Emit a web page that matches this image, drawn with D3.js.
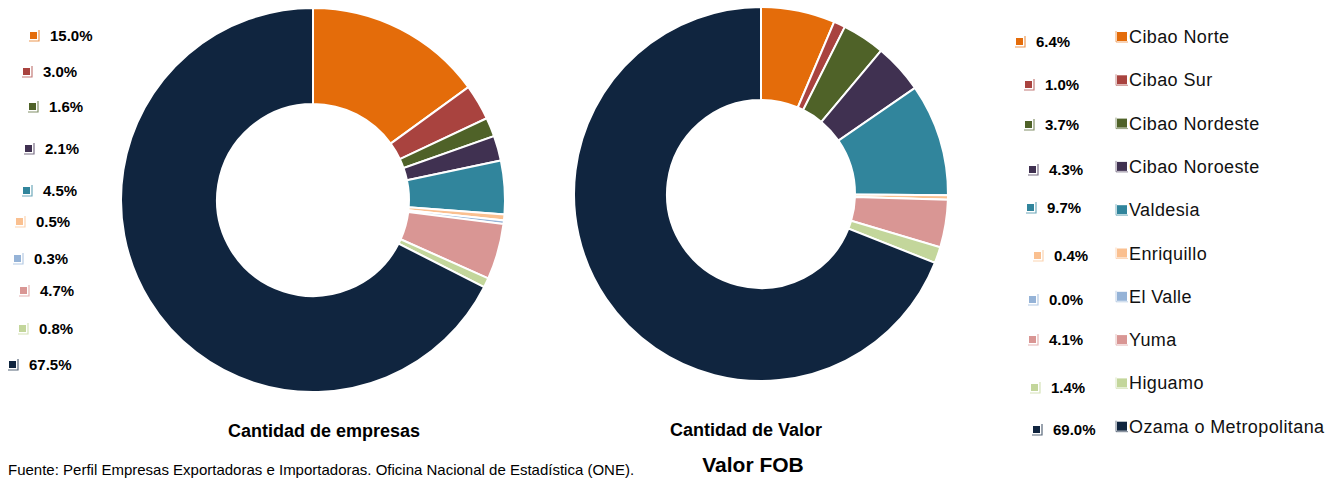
<!DOCTYPE html>
<html>
<head>
<meta charset="utf-8">
<script src="https://cdnjs.cloudflare.com/ajax/libs/d3/7.8.5/d3.min.js"></script>
<style>
  body { margin: 0; background: #fff; }
  text { font-family: "Liberation Sans Narrow", "Liberation Sans", sans-serif; }
</style>
</head>
<body>
<div id="viz"></div>
<script>
// regions, in order of the slices
var regiones = ["Cibao Norte", "Cibao Sur", "Cibao Nordeste", "Cibao Noroeste", "Valdesia",
                "Enriquillo", "El Valle", "Yuma", "Higuamo", "Ozama o Metropolitana"];
var empresas = [15.0, 3.0, 1.6, 2.1, 4.5, 0.5, 0.3, 4.7, 0.8, 67.5];
var valor = [6.4, 1.0, 3.7, 4.3, 9.7, 0.4, 0.0, 4.1, 1.4, 69.0];
var colores = ["#E46C0A", "#A9433F", "#4F6228", "#403151", "#31859C",
               "#FAC090", "#95B3D7", "#D99694", "#C3D69B", "#10253F"];

// where the percentage labels sit (layout only)
var labelsEmpresas = [[30, 36], [23, 72], [29, 107], [25, 149], [23, 191], [16, 222], [14, 259], [20, 291], [19, 329], [9, 365]];
var labelsValor = [[1016, 42], [1025, 85], [1025, 125], [1029, 170], [1027, 208], [1034, 256], [1029, 300], [1029, 340], [1031, 388], [1033, 430]];

var svg = d3.select("#viz").append("svg")
    .attr("width", 1338)
    .attr("height", 479);

var pie = d3.pie().sort(null).value(function(d) { return d; });
var fmt = d3.format(".1f");

function icon(g, x, y, c) {
    g.append("rect").attr("x", x).attr("y", y - 4).attr("width", 7).attr("height", 7).attr("fill", c);
    g.append("path")
        .attr("d", "M" + (x + 9) + "," + (y - 6) + "V" + (y + 5) + "H" + (x - 1))
        .attr("fill", "none").attr("stroke", c).attr("stroke-opacity", 0.7).attr("stroke-width", 1.2);
}

function donut(values, cx, cy, r0, r1, labels, titulo, tx, ty) {
    var g = svg.append("g").attr("transform", "translate(" + cx + "," + cy + ")");
    var arc = d3.arc().innerRadius(r0).outerRadius(r1);
    g.selectAll("path")
        .data(pie(values))
        .enter().append("path")
        .attr("d", arc)
        .attr("fill", function(d, i) { return colores[i]; })
        .attr("stroke", "#fff")
        .attr("stroke-width", 2);

    var lg = svg.append("g");
    values.forEach(function(v, i) {
        var p = labels[i];
        icon(lg, p[0], p[1], colores[i]);
        lg.append("text")
            .attr("x", p[0] + 20).attr("y", p[1] + 5)
            .attr("font-size", 15).attr("font-weight", "bold")
            .attr("fill", "#000")
            .text(fmt(v) + "%");
    });

    svg.append("text")
        .attr("x", tx).attr("y", ty)
        .attr("text-anchor", "middle")
        .attr("font-size", 18).attr("font-weight", "bold")
        .text(titulo);
}

donut(empresas, 313, 200, 96, 192, labelsEmpresas, "Cantidad de empresas", 324, 437);
donut(valor, 761, 194, 94, 187, labelsValor, "Cantidad de Valor", 746, 436);

// legend with region names
var leg = svg.append("g");
regiones.forEach(function(r, i) {
    var y = 37 + i * 43.3;
    leg.append("rect").attr("x", 1117).attr("y", y - 5).attr("width", 10).attr("height", 9).attr("fill", colores[i]);
    leg.append("path")
        .attr("d", "M" + 1116 + "," + (y - 6) + "V" + (y + 5) + "H" + 1128)
        .attr("fill", "none").attr("stroke", colores[i]).attr("stroke-opacity", 0.6).attr("stroke-width", 1);
    leg.append("text")
        .attr("x", 1129).attr("y", y + 6)
        .attr("font-family", "Liberation Sans")
        .attr("font-size", 18)
        .attr("letter-spacing", 0.4)
        .attr("fill", "#111")
        .text(r);
});

svg.append("text")
    .attr("x", 753).attr("y", 472)
    .attr("text-anchor", "middle")
    .attr("font-size", 21).attr("font-weight", "bold")
    .text("Valor FOB");

svg.append("text")
    .attr("x", 8).attr("y", 475)
    .attr("font-size", 15)
    .text("Fuente: Perfil Empresas Exportadoras e Importadoras. Oficina Nacional de Estadística (ONE).");
</script>
</body>
</html>
